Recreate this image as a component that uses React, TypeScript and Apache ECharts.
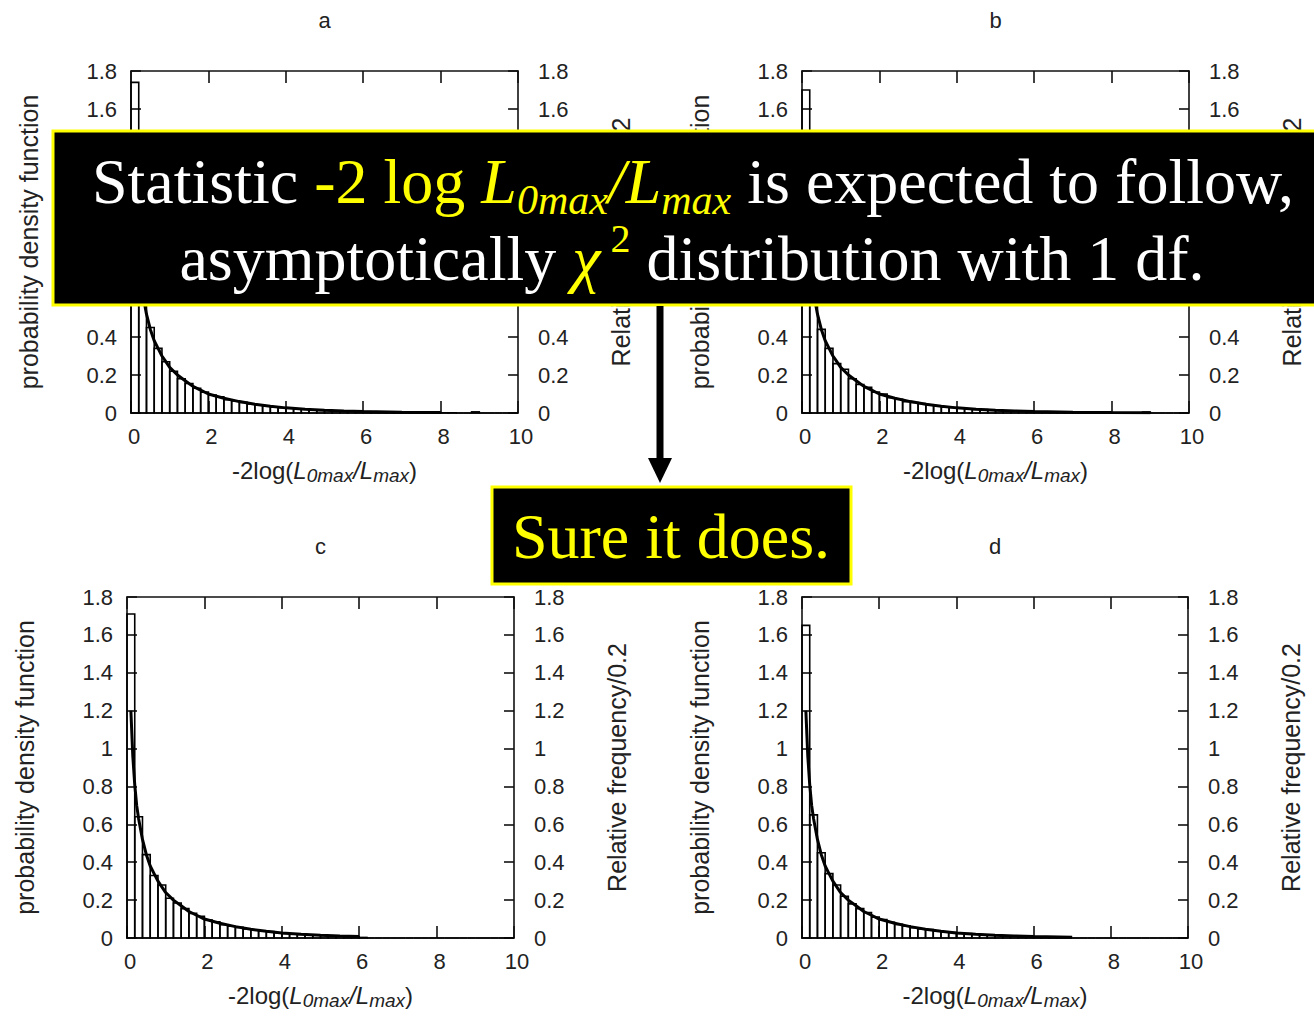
import React, { useEffect, useRef } from "react";
import * as echarts from "echarts";

const panelTitles = ["a", "b", "c", "d"];
const binWidth = 0.2;

const histA = [1.74, 0.63, 0.45, 0.34, 0.27, 0.22, 0.18, 0.155, 0.13, 0.11, 0.095, 0.085, 0.07, 0.064, 0.056, 0.047, 0.043, 0.037, 0.031, 0.028, 0.025, 0.021, 0.02, 0.017, 0.014, 0.013, 0.012, 0.01, 0.009, 0.008, 0.007, 0.006, 0.005, 0.005, 0.004, 0.003, 0.003, 0.002, 0.002, 0.002, 0.001, 0.001, 0, 0, 0.006, 0, 0, 0, 0, 0];
const histB = [1.7, 0.65, 0.44, 0.34, 0.26, 0.23, 0.18, 0.15, 0.135, 0.11, 0.1, 0.08, 0.072, 0.06, 0.055, 0.05, 0.041, 0.038, 0.032, 0.029, 0.026, 0.022, 0.019, 0.018, 0.016, 0.013, 0.012, 0.011, 0.009, 0.008, 0.006, 0.006, 0.005, 0.004, 0.004, 0.003, 0.003, 0.002, 0.002, 0.001, 0.001, 0.001, 0.001, 0, 0.005, 0, 0, 0, 0, 0];
const histC = [1.71, 0.64, 0.44, 0.33, 0.28, 0.21, 0.185, 0.155, 0.13, 0.115, 0.095, 0.085, 0.07, 0.062, 0.056, 0.048, 0.042, 0.036, 0.034, 0.028, 0.024, 0.022, 0.019, 0.017, 0.015, 0.013, 0.011, 0.01, 0.008, 0.006, 0.003, 0, 0, 0, 0, 0, 0, 0, 0, 0, 0, 0, 0, 0, 0, 0, 0, 0, 0, 0];
const histD = [1.65, 0.65, 0.45, 0.34, 0.28, 0.22, 0.18, 0.155, 0.135, 0.11, 0.098, 0.083, 0.072, 0.064, 0.054, 0.048, 0.044, 0.036, 0.032, 0.029, 0.025, 0.023, 0.021, 0.017, 0.015, 0.013, 0.01, 0.009, 0.008, 0.006, 0.005, 0.002, 0.002, 0.004, 0, 0, 0, 0, 0, 0, 0, 0, 0, 0, 0, 0, 0, 0, 0, 0];
const histograms = [histA, histB, histC, histD];

const pdfX = [0.1, 0.15, 0.2, 0.25, 0.3, 0.4, 0.5, 0.6, 0.7, 0.8, 0.9, 1.0, 1.2, 1.4, 1.6, 1.8, 2.0, 2.4, 2.8, 3.2, 3.6, 4.0, 4.5, 5.0, 5.5, 6.0, 7.0, 8.0, 9.0];
const pdfY = [1.2, 0.96, 0.81, 0.7, 0.63, 0.52, 0.44, 0.38, 0.34, 0.3, 0.27, 0.24, 0.2, 0.17, 0.14, 0.12, 0.1, 0.078, 0.06, 0.046, 0.036, 0.027, 0.02, 0.015, 0.011, 0.008, 0.004, 0.002, 0.001];
const curveEnd = [8.2, 9.0, 6.0, 7.0];

// y tick labels hidden behind the black caption box (top panels only)
const hiddenTopLabels = [0.6, 0.8, 1, 1.2, 1.4];

const GRIDS = [
  { left: 131, top: 71, width: 387, height: 342 },
  { left: 802, top: 71, width: 387, height: 342 },
  { left: 127, top: 597, width: 387, height: 341 },
  { left: 802, top: 597, width: 386, height: 341 },
];

const SANS = "'Liberation Sans', Arial, Helvetica, sans-serif";
const SERIF = "'Liberation Serif', 'Times New Roman', serif";
const TXT = "#222";
const AX = "#111";

export default function App() {
  const ref = useRef<HTMLDivElement>(null);
  useEffect(() => {
    if (!ref.current) return;
    const chart = echarts.init(ref.current, null, { renderer: "svg" });

    const xAxis: any[] = [];
    const yAxis: any[] = [];
    const series: any[] = [];
    const title: any[] = [];

    const axisLine = { show: true, onZero: false, lineStyle: { color: AX, width: 1.6 } };
    const tickX = { show: true, inside: true, length: 12, lineStyle: { color: AX, width: 1.6 } };
    const tickY = { show: true, inside: true, length: 10, lineStyle: { color: AX, width: 1.6 } };

    GRIDS.forEach((g, i) => {
      const isTop = i < 2;
      const yFmt = (v: number) => {
        const r = Math.round(v * 10) / 10;
        if (isTop && hiddenTopLabels.some((h) => Math.abs(h - r) < 1e-6)) return "";
        return String(r);
      };
      title.push({
        text: panelTitles[i],
        left: g.left + g.width / 2 - 5,
        top: g.top - 67,
        textAlign: "center",
        textStyle: { fontFamily: SANS, fontSize: 22, fontWeight: "normal", color: TXT },
      });
      xAxis.push({
        gridIndex: i, type: "value", min: 0, max: 10, interval: 2, position: "bottom",
        axisLine, axisTick: tickX, splitLine: { show: false },
        axisLabel: { margin: 12, color: TXT, fontSize: 22, fontFamily: SANS, padding: [0, 0, 0, 6] },
        name: "{n|-2log(}{i|L}{s|0max}{i|/L}{s|max}{n|)}",
        nameLocation: "middle", nameGap: 42,
        nameTextStyle: {
          fontFamily: SANS, fontSize: 24, color: TXT,
          rich: {
            n: { fontFamily: SANS, fontSize: 24, color: TXT, lineHeight: 30 },
            i: { fontFamily: SANS, fontSize: 24, color: TXT, fontStyle: "italic", lineHeight: 30 },
            s: { fontFamily: SANS, fontSize: 19, color: TXT, fontStyle: "italic", lineHeight: 14, verticalAlign: "bottom" },
          },
        },
      });
      xAxis.push({
        gridIndex: i, type: "value", min: 0, max: 10, interval: 2, position: "top",
        axisLine, axisTick: tickX, splitLine: { show: false }, axisLabel: { show: false },
      });
      yAxis.push({
        gridIndex: i, type: "value", min: 0, max: 1.8, interval: 0.2, position: "left",
        axisLine, axisTick: tickY, splitLine: { show: false },
        axisLabel: { margin: 14, color: TXT, fontSize: 22, fontFamily: SANS, formatter: yFmt },
        name: "probability density function", nameLocation: "middle", nameGap: 90,
        nameTextStyle: { fontFamily: SANS, fontSize: 25, color: TXT },
      });
      yAxis.push({
        gridIndex: i, type: "value", min: 0, max: 1.8, interval: 0.2, position: "right",
        axisLine, axisTick: tickY, splitLine: { show: false },
        axisLabel: { margin: 20, color: TXT, fontSize: 22, fontFamily: SANS, formatter: yFmt },
        name: "Relative frequency/0.2", nameLocation: "middle", nameGap: 90,
        nameTextStyle: { fontFamily: SANS, fontSize: 25, color: TXT },
      });
      series.push({
        type: "custom",
        xAxisIndex: 2 * i,
        yAxisIndex: 2 * i,
        encode: { x: [0, 1], y: 2 },
        data: histograms[i].map((v, k) => [k * binWidth, (k + 1) * binWidth, v]),
        renderItem: (params: any, api: any) => {
          const p0 = api.coord([api.value(0), api.value(2)]);
          const p1 = api.coord([api.value(1), 0]);
          return {
            type: "rect",
            shape: { x: p0[0], y: p0[1], width: p1[0] - p0[0], height: p1[1] - p0[1] },
            style: { fill: "rgba(0,0,0,0)", stroke: "#000", lineWidth: 1.6 },
          };
        },
        z: 2,
      });
      series.push({
        type: "line",
        xAxisIndex: 2 * i,
        yAxisIndex: 2 * i,
        data: pdfX.map((x, k) => [x, pdfY[k]]).filter((p) => p[0] <= curveEnd[i]),
        symbol: "none",
        showSymbol: false,
        lineStyle: { color: "#000", width: 3 },
        z: 3,
      });
    });

    const lineH = 80;
    const richBase = { fontFamily: SERIF, fontSize: 64, lineHeight: lineH };
    const rich1 = {
      w: { ...richBase, fill: "#ffffff" },
      y: { ...richBase, fill: "#ffff00" },
      yi: { ...richBase, fill: "#ffff00", fontStyle: "italic" },
      sub: { fontFamily: SERIF, fontSize: 42, fill: "#ffff00", fontStyle: "italic", lineHeight: 34, verticalAlign: "bottom" },
    };
    const rich2 = {
      w: { ...richBase, fill: "#ffffff" },
      chi: { ...richBase, fill: "#ffff00", fontStyle: "italic" },
      sup: { fontFamily: SERIF, fontSize: 40, fill: "#ffff00", lineHeight: 54, verticalAlign: "top" },
    };

    chart.setOption({
      animation: false,
      backgroundColor: "#ffffff",
      title,
      grid: GRIDS.map((g) => ({ ...g, containLabel: false })),
      xAxis,
      yAxis,
      series,
      graphic: {
        elements: [
          { type: "rect", z: 100, shape: { x: 53, y: 131, width: 1290, height: 174 }, style: { fill: "#000", stroke: "#ffff00", lineWidth: 3 } },
          {
            type: "text", z: 101, x: 693, y: 181,
            style: {
              text: "{w|Statistic }{y|-2 log }{yi|L}{sub|0max}{yi|/L}{sub|max}{w| is expected to follow,}",
              align: "center", verticalAlign: "middle", fontFamily: SERIF, fontSize: 64, fill: "#fff", rich: rich1,
            },
          },
          {
            type: "text", z: 101, x: 692, y: 258,
            style: {
              text: "{w|asymptotically }{chi|χ}{sup| 2}{w| distribution with 1 df.}",
              align: "center", verticalAlign: "middle", fontFamily: SERIF, fontSize: 64, fill: "#fff", rich: rich2,
            },
          },
          { type: "line", z: 100, shape: { x1: 660, y1: 306, x2: 660, y2: 462 }, style: { stroke: "#000", lineWidth: 7 } },
          { type: "polygon", z: 100, shape: { points: [[648, 458], [672, 458], [660, 483]] }, style: { fill: "#000" } },
          { type: "rect", z: 100, shape: { x: 492, y: 487, width: 359, height: 97 }, style: { fill: "#000", stroke: "#ffff00", lineWidth: 3 } },
          {
            type: "text", z: 101, x: 671, y: 536,
            style: { text: "Sure it does.", fill: "#ffff00", fontFamily: SERIF, fontSize: 64, align: "center", verticalAlign: "middle" },
          },
        ],
      },
    });
    return () => chart.dispose();
  }, []);
  return <div ref={ref} style={{ position: "absolute", left: 0, top: 0, width: 1314, height: 1018 }} />;
}
